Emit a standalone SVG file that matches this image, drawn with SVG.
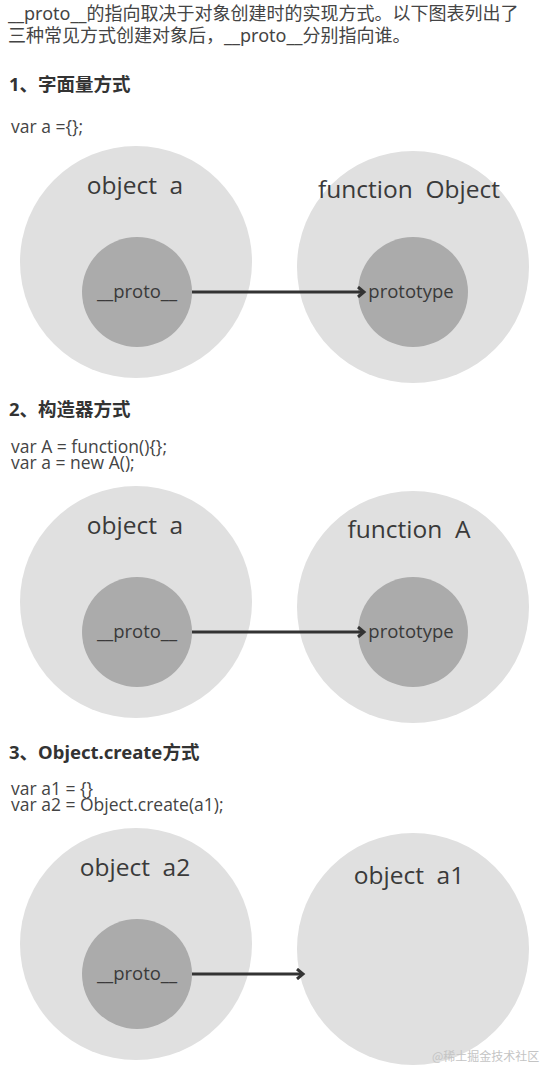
<svg xmlns="http://www.w3.org/2000/svg" width="552" height="1081" viewBox="0 0 552 1081">
<style>
.p{font-family:"Noto Sans","Noto Sans CJK SC",sans-serif;font-size:18px;fill:#444}
.h{font-family:"Noto Sans","Noto Sans CJK SC",sans-serif;font-size:18.5px;font-weight:bold;fill:#333}
.c{font-family:"Open Sans","Noto Sans",sans-serif;font-size:17.5px;fill:#444}
.big{fill:#e0e0e0}
.in{fill:#ababab}
.t{font-family:"Open Sans","Noto Sans",sans-serif;font-size:24.5px;fill:#3a3a3a;text-anchor:middle;white-space:pre}
.s{font-family:"Open Sans","Noto Sans",sans-serif;font-size:18.5px;fill:#3a3a3a;text-anchor:middle}
.arr{stroke:#333;stroke-width:3;fill:none}
.wm{font-family:"Noto Sans CJK SC",sans-serif;font-size:12px;fill:#c4c4c4}
</style>
<defs>
<marker id="ah" markerWidth="10" markerHeight="12" refX="7" refY="6" orient="auto" markerUnits="userSpaceOnUse">
<path d="M1,1 L7,6 L1,11" stroke="#333" stroke-width="3" fill="none"/>
</marker>
</defs>
<rect width="552" height="1081" fill="#fff"/>
<g id="intro">
<text class="p" x="8" y="20">__proto__的指向取决于对象创建时的实现方式。以下图表列出了</text>
<text class="p" x="8" y="42">三种常见方式创建对象后，__proto__分别指向谁。</text>
</g>
<g id="sec1-text">
<text class="h" x="9" y="91">1、字面量方式</text>
<text class="c" x="11" y="133">var a ={};</text>
</g>
<g id="s1-objA">
<circle class="big" cx="136" cy="262" r="116"/>
<text class="t" x="135" y="194">object  a</text>
<circle class="in" cx="137" cy="292" r="55"/>
<text class="s" x="137" y="298">__proto__</text>
</g>
<g id="s1-funcObject">
<circle class="big" cx="413" cy="267" r="116"/>
<text class="t" x="409" y="198">function  Object</text>
<circle class="in" cx="413" cy="292" r="55"/>
<text class="s" x="411" y="298">prototype</text>
</g>
<g id="sec2-text">
<text class="h" x="9" y="416">2、构造器方式</text>
<text class="c" x="11" y="453">var A = function(){};</text>
<text class="c" x="11" y="469">var a = new A();</text>
</g>
<g id="s2-objA">
<circle class="big" cx="136" cy="602" r="116"/>
<text class="t" x="135" y="534">object  a</text>
<circle class="in" cx="137" cy="632" r="55"/>
<text class="s" x="137" y="638">__proto__</text>
</g>
<g id="s2-funcA">
<circle class="big" cx="413" cy="607" r="116"/>
<text class="t" x="409" y="538">function  A</text>
<circle class="in" cx="413" cy="632" r="55"/>
<text class="s" x="411" y="638">prototype</text>
</g>
<g id="sec3-text">
<text class="h" x="9" y="759">3、Object.create方式</text>
<text class="c" x="11" y="795">var a1 = {}</text>
<text class="c" x="11" y="811">var a2 = Object.create(a1);</text>
</g>
<g id="s3-objA2">
<circle class="big" cx="136" cy="944" r="116"/>
<text class="t" x="135" y="876">object  a2</text>
<circle class="in" cx="137" cy="974" r="55"/>
<text class="s" x="137" y="980">__proto__</text>
</g>
<g id="s3-objA1">
<circle class="big" cx="413" cy="949" r="116"/>
<text class="t" x="409" y="884">object  a1</text>
</g>
<g id="connectors">
<line class="arr" x1="192" y1="292" x2="364" y2="292" marker-end="url(#ah)"/>
<line class="arr" x1="192" y1="632" x2="364" y2="632" marker-end="url(#ah)"/>
<line class="arr" x1="192" y1="974" x2="303" y2="974" marker-end="url(#ah)"/>
</g>
<text class="wm" x="432" y="1061">@稀土掘金技术社区</text>
</svg>
